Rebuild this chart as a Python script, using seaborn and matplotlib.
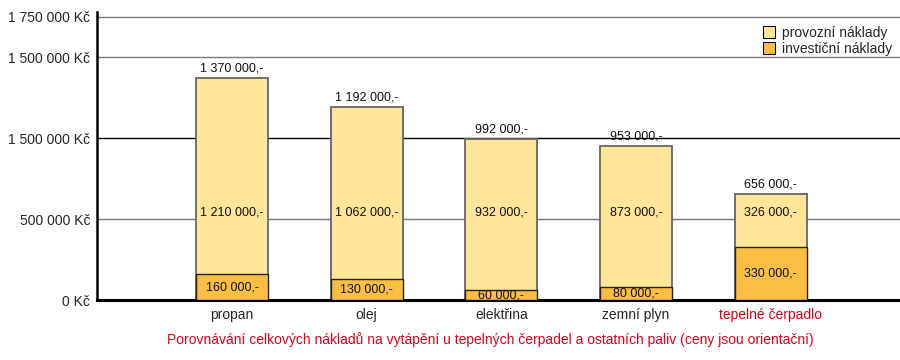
import matplotlib
matplotlib.use("Agg")
import matplotlib.pyplot as plt
import seaborn as sns
import pandas as pd
from matplotlib.patches import Patch

# data
paliva = ['propan', 'olej', 'elektřina', 'zemní plyn', 'tepelné čerpadlo']
provozni = [1210000, 1062000, 932000, 873000, 326000]
investicni = [160000, 130000, 60000, 80000, 330000]
celkem = [1370000, 1192000, 992000, 953000, 656000]

y_ticks = [0, 500000, 1000000, 1500000, 1750000]
y_labels = ['0 Kč', '500 000 Kč', '1 500 000 Kč', '1 500 000 Kč', '1 750 000 Kč']

svetla = '#FEE597'
tmava = '#FABF42'
cervena = '#E2001A'


def fmt(v):
    return '{:,}'.format(v).replace(',', ' ') + ',-'


df = pd.DataFrame({'palivo': paliva, 'provozni': provozni,
                   'investicni': investicni, 'celkem': celkem})

sns.set_style('white')
plt.rcParams['font.family'] = ['Liberation Sans', 'DejaVu Sans']

fig = plt.figure(figsize=(9, 3.6), dpi=100)
ax = fig.add_axes([97 / 900, 60 / 360, 803 / 900, 288 / 360])

# mrizka
for t in y_ticks[1:]:
    ax.axhline(t, color='black' if t == 1000000 else '#777777', lw=1, zorder=0)

sns.barplot(data=df, x='palivo', y='celkem', color=svetla, width=0.535,
            edgecolor='#666666', linewidth=1.3, saturation=1, ax=ax, zorder=2)
sns.barplot(data=df, x='palivo', y='investicni', color=tmava, width=0.535,
            edgecolor='#222222', linewidth=1, saturation=1, ax=ax, zorder=3)

# popisky - provozni vsechny ve stejne vysce
for i in range(len(paliva)):
    ax.text(i, celkem[i] + 22000, fmt(celkem[i]), ha='center', va='bottom',
            fontsize=9, color='#111111')
    ax.text(i, 540000, fmt(provozni[i]), ha='center', va='center',
            fontsize=9, color='#111111', zorder=5)
    ax.text(i, investicni[i] / 2, fmt(investicni[i]), ha='center', va='center',
            fontsize=9, color='#111111', zorder=5)

ax.set_xlim(-1.003, 4.96)
ax.set_ylim(0, 1780000)
ax.set_yticks(y_ticks)
ax.set_yticklabels(y_labels, fontsize=10)
ax.tick_params(axis='y', length=0, pad=5)
ax.tick_params(axis='x', length=0, pad=6)
ax.set_xticks(range(len(paliva)))
ax.set_xticklabels(paliva, fontsize=10)
ax.get_xticklabels()[-1].set_color(cervena)
ax.set_xlabel('')
ax.set_ylabel('')

for s in ['top', 'right']:
    ax.spines[s].set_visible(False)
ax.spines['left'].set_color('black')
ax.spines['left'].set_linewidth(1.8)
ax.spines['bottom'].set_color('black')
ax.spines['bottom'].set_linewidth(2.2)

handles = [Patch(facecolor=svetla, edgecolor='black', lw=0.8),
           Patch(facecolor=tmava, edgecolor='black', lw=0.8)]
fig.legend(handles, ['provozní náklady', 'investiční náklady'], loc='upper right',
           bbox_to_anchor=(1.002, 0.955), frameon=False, fontsize=10,
           handlelength=0.9, handleheight=0.9, handletextpad=0.5,
           labelspacing=0.15, borderpad=0.2)

fig.text(490 / 900, 1 - 340 / 360,
         'Porovnávání celkových nákladů na vytápění u tepelných čerpadel a ostatních paliv (ceny jsou orientační)',
         ha='center', va='center', color=cervena, fontsize=10)

fig.savefig('out.png', dpi=100)
